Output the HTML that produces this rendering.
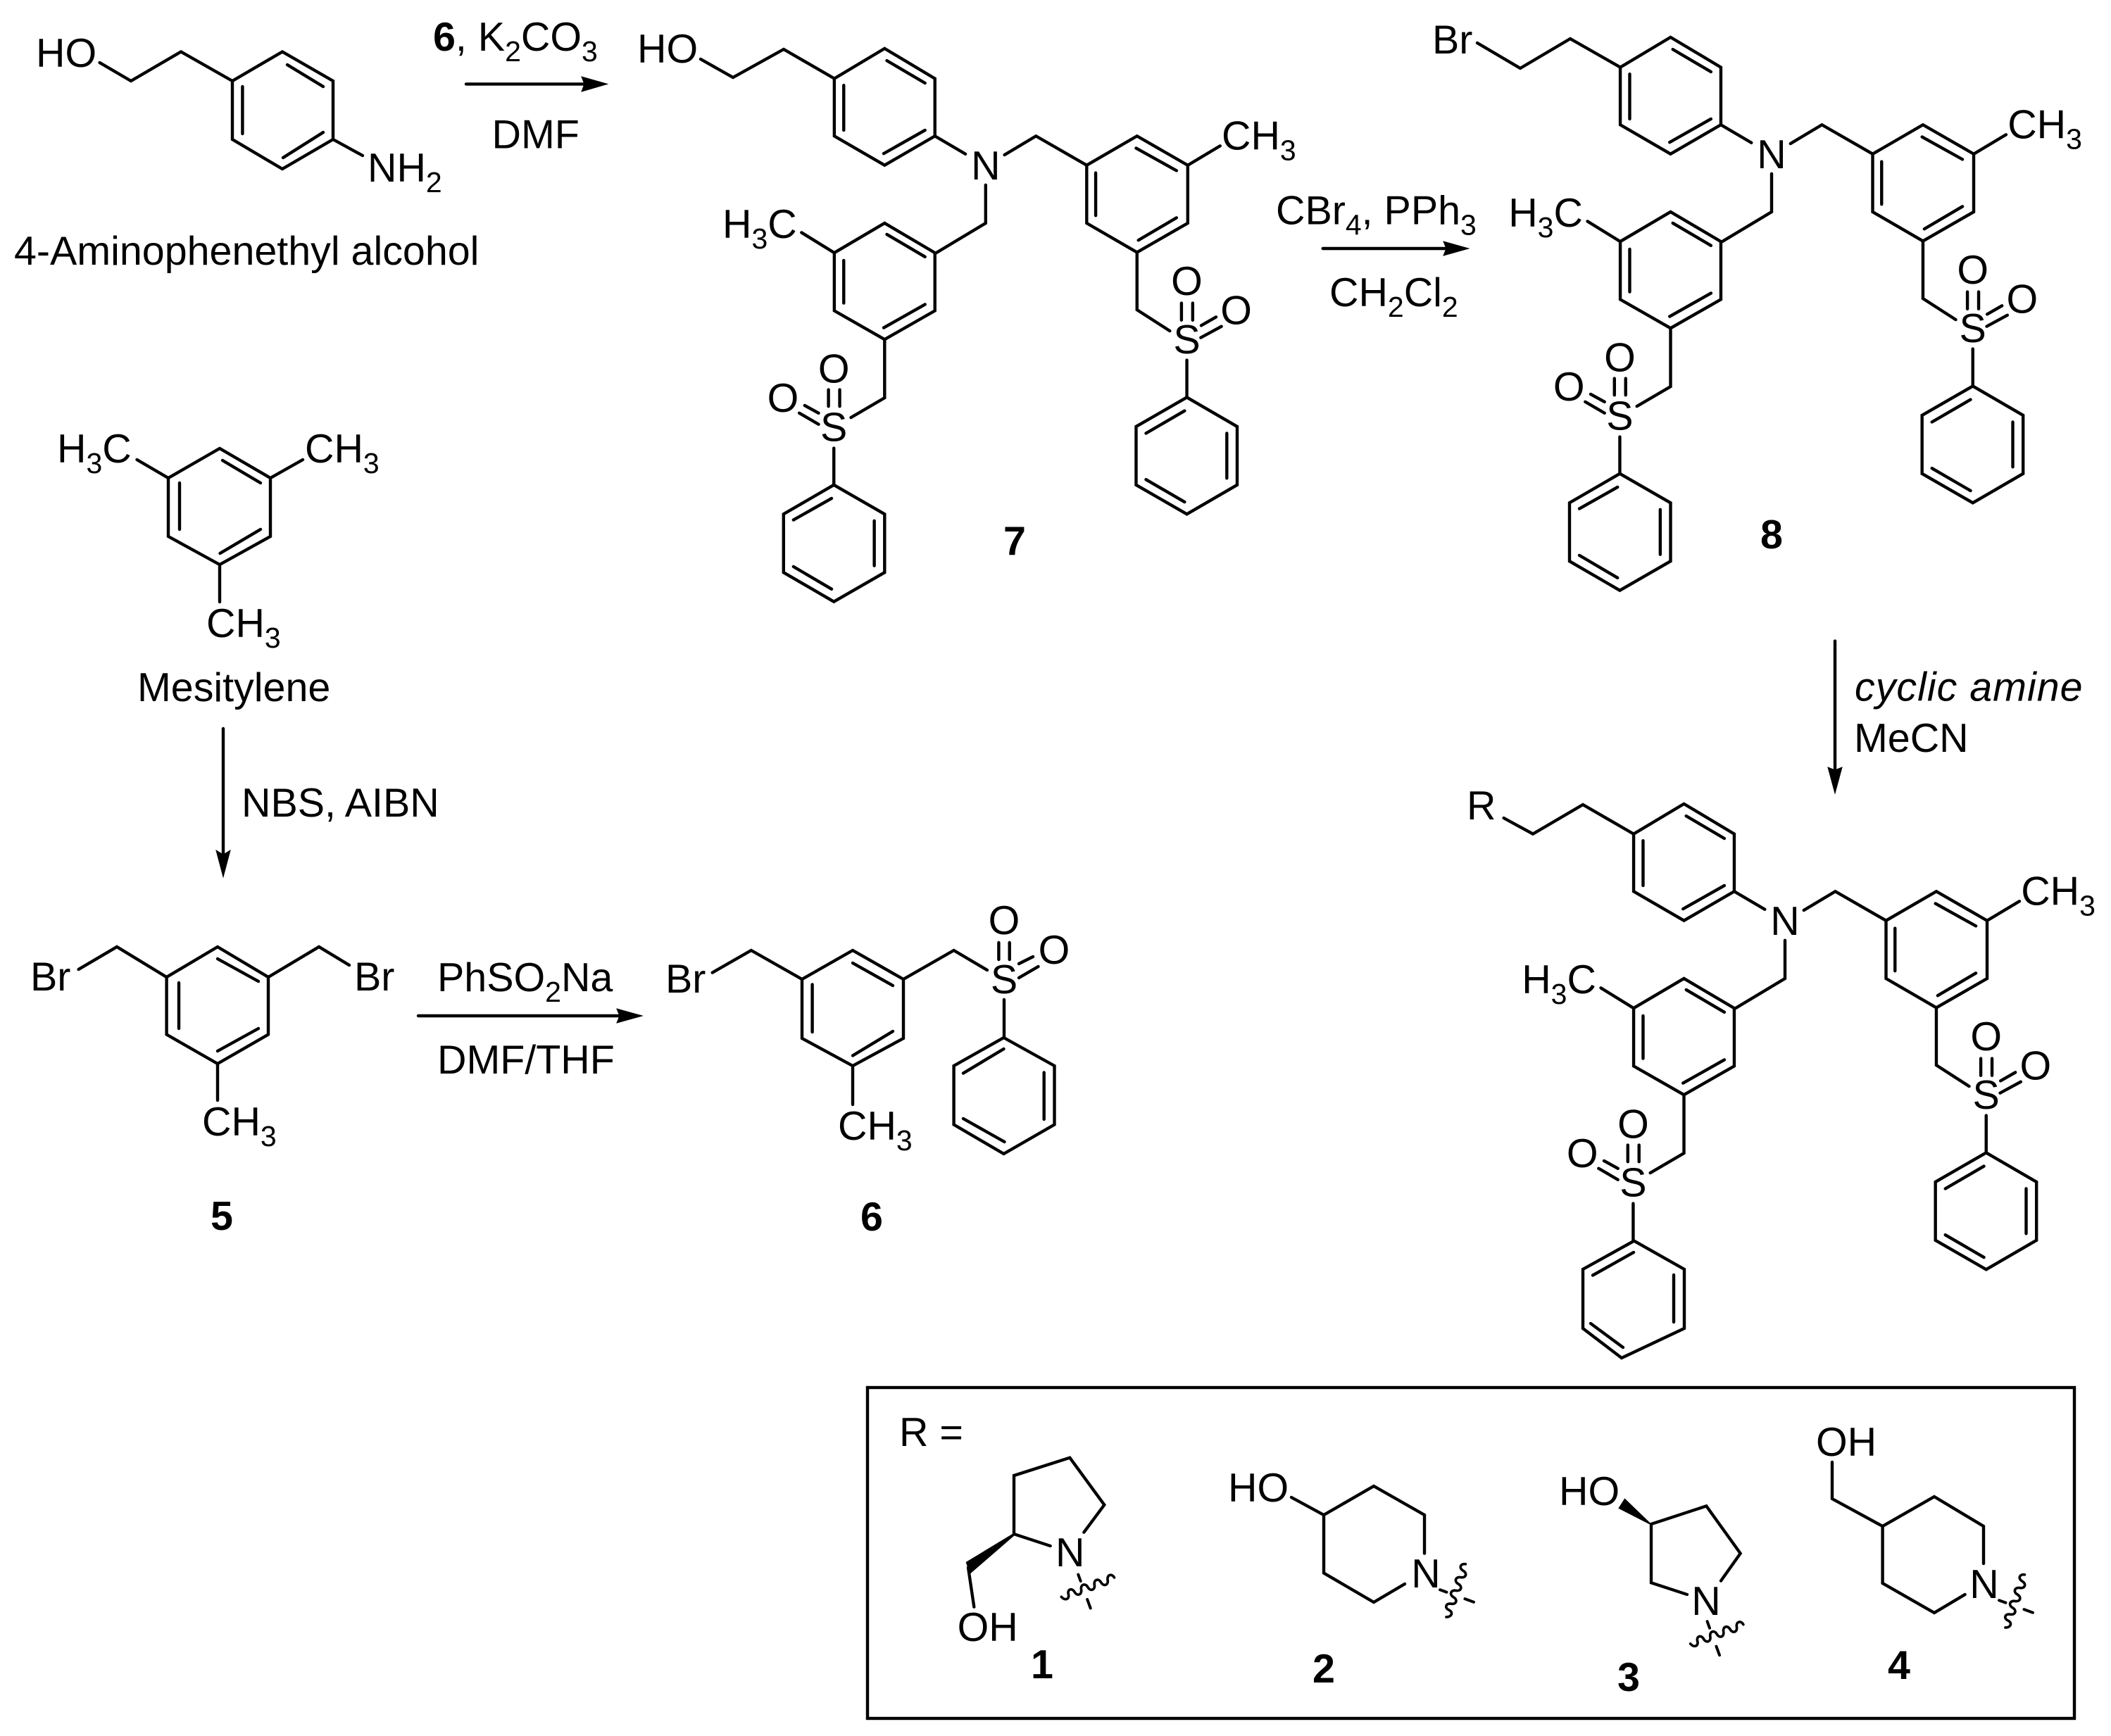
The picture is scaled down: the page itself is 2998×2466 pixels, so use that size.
<!DOCTYPE html>
<html><head><meta charset="utf-8"><style>
html,body{margin:0;padding:0;background:#fff}
svg{display:block}
text{font-family:"Liberation Sans",Arial,sans-serif;font-size:57.4px;fill:#000}
.b{font-weight:bold}
.i{font-style:italic}
.m{text-anchor:middle}
.s{font-size:41px}
.l{fill:none;stroke:#000;stroke-width:4.4;stroke-linecap:round;stroke-linejoin:miter}
.c{fill:none;stroke:#000;stroke-width:6.9;stroke-linecap:round;stroke-linejoin:miter}
.z{fill:none;stroke:#000;stroke-width:13;stroke-linecap:round;stroke-linejoin:miter}
</style></head><body>
<svg xmlns="http://www.w3.org/2000/svg" width="2998" height="2466" viewBox="0 0 2998 2466">
<rect width="2998" height="2466" fill="#fff"/>
<defs>
<g id="core" transform="translate(880 0) scale(.6378)">
<path class="c" d="M478,175L590,108L702,175V303L590,368L478,303ZM499,190V290M595,135L680,185M588,342L680,290M702,303L770,343M857,345L927,303L1040,368M815,412V497L705,563"/>
<path class="c" d="M1040,368L1152,303L1265,368V497L1152,562L1040,497ZM1150,330L1240,380M1240,485L1155,535M1060,385V480M1265,368L1337,325M1152,562V690L1225,737M1251,675V713M1276,675V713M1295,725L1328,706M1294,752L1340,727M1263,802V885"/>
<path class="c" d="M1263,885L1375,950V1080L1263,1145L1150,1080V950ZM1172,965L1258,915M1352,965V1065M1172,1068L1258,1118"/>
<path class="c" d="M478,563L590,497L702,563V692L590,756L478,692ZM499,580V675M595,522L680,572M588,730L680,678M478,563L405,518M590,756V886L515,930M465,868V905M490,868V905M412,903L443,920M400,920L443,945M477,998V1080"/>
</g>
<g id="lph" transform="translate(880 0) scale(.6378)">
<path class="c" d="M477,1080L590,1145V1275L477,1340L365,1275V1145ZM387,1158L472,1110M567,1160V1260M387,1262L472,1312"/>
</g>
<g id="wav">
<path d="M0,0C8,22 30,22 32,0C34,-22 56,-22 60,0C64,22 86,22 90,0C94,-22 116,-22 120,0C124,22 146,22 150,0C154,-22 176,-22 180,0C184,22 206,22 210,0C214,-22 236,-22 240,0" fill="none" stroke="#000" stroke-width="11" stroke-linecap="round"/>
<path d="M100,-35V-65M100,48V88" fill="none" stroke="#000" stroke-width="12" stroke-linecap="round"/>
</g>
</defs>

<!-- 4-aminophenethyl alcohol -->
<text x="51" y="95">HO</text>
<path class="l" d="M141.600,89L186,115L257,73.500L330,115M330,115L401,73.500L473,115V198L401,240L330,198ZM344.400,123V190M408,92L459,123M402,224L459,188M473,198L515,221"/>
<text x="522" y="258">NH<tspan class="s" dy="15">2</tspan></text>
<text x="20" y="376">4-Aminophenethyl alcohol</text>

<!-- arrow 1 -->
<path class="l" d="M662,119.400H840"/>
<path d="M862.500,119.400L826,109L830,119.400L826,130Z" stroke="#000" stroke-width="1"/>
<text x="615" y="72"><tspan class="b">6</tspan>, K<tspan class="s" dy="15">2</tspan><tspan dy="-15">CO</tspan><tspan class="s" dy="15">3</tspan></text>
<text x="698.500" y="210.500">DMF</text>

<!-- mesitylene -->
<path class="l" d="M239,679L312,637L384,679V762L312,802L239,762ZM255,686V752M316,654L370,686M312.500,786L370,752M239,679L194.500,653M384,679L430,653M312,802V855"/>
<text x="81" y="657">H<tspan class="s" dy="15">3</tspan><tspan dy="-15">C</tspan></text>
<text x="433" y="657">CH<tspan class="s" dy="15">3</tspan></text>
<text x="293" y="905">CH<tspan class="s" dy="15">3</tspan></text>
<text x="195" y="996">Mesitylene</text>

<!-- down arrow NBS -->
<path class="l" d="M317,1035V1225"/>
<path d="M317,1245.700L307,1208L317,1214L327,1208Z" stroke="#000" stroke-width="1"/>
<text x="343" y="1160">NBS, AIBN</text>

<!-- compound 5 -->
<path class="l" d="M236.600,1388L309,1345L381,1388V1469.500L309,1511L236.600,1469.500ZM254,1396V1461M309,1362L367,1394M309,1493L367,1461M111.600,1377L166,1345L236.600,1388M381,1388L453,1345L496,1371M309,1511V1563"/>
<text x="43" y="1407">Br</text>
<text x="503" y="1407">Br</text>
<text x="287" y="1613">CH<tspan class="s" dy="15">3</tspan></text>
<text x="315" y="1747" class="b m">5</text>

<!-- arrow 2 -->
<path class="l" d="M594,1443H890"/>
<path d="M912,1443L876,1433L880,1443L876,1453Z" stroke="#000" stroke-width="1"/>
<text x="621" y="1408">PhSO<tspan class="s" dy="15">2</tspan><tspan dy="-15">Na</tspan></text>
<text x="621" y="1525">DMF/THF</text>

<!-- compound 6 -->
<path class="l" d="M1139,1391L1211,1350L1283,1391V1475L1211,1514L1139,1475ZM1153.600,1398.500V1466M1211,1368L1268,1400M1211,1499.500L1268,1465M1011.700,1381.600L1066.800,1350L1139,1391M1283,1391L1354.600,1350L1402,1378M1418.400,1339V1363M1433.700,1339V1363M1447,1369L1467,1359M1447,1389L1474.500,1373M1426,1420V1474M1211,1514V1569"/>
<path class="l" d="M1425.500,1474L1497.500,1514V1597.500L1425.500,1639L1354.600,1597.500V1514ZM1368,1524.500L1425.500,1490M1482.700,1523.500V1590M1368,1589L1426.500,1622"/>
<text x="945" y="1410">Br</text>
<text x="1426" y="1411" class="m">S</text>
<text x="1426" y="1327" class="m">O</text>
<text x="1497" y="1369" class="m">O</text>
<text x="1190" y="1619">CH<tspan class="s" dy="15">3</tspan></text>
<text x="1238" y="1748" class="b m">6</text>

<!-- compound 7 -->
<use href="#core"/><use href="#lph"/>
<path class="l" d="M995,84L1041,110L1113,70L1185,111.600"/>
<g>
<text x="905" y="89">HO</text>
<text x="1399.800" y="255" class="m">N</text>
<text x="1735" y="212.400">CH<tspan class="s" dy="15">3</tspan></text>
<text x="1026" y="338">H<tspan class="s" dy="15">3</tspan><tspan dy="-15">C</tspan></text>
<text x="1685.500" y="502" class="m">S</text>
<text x="1685.500" y="419" class="m">O</text>
<text x="1755.600" y="460.500" class="m">O</text>
<text x="1184.200" y="626.300" class="m">S</text>
<text x="1184.200" y="543.400" class="m">O</text>
<text x="1112" y="584.800" class="m">O</text>
<text x="1441" y="788" class="b m">7</text>
</g>

<!-- arrow 3 -->
<path class="l" d="M1878.700,353H2065"/>
<path d="M2085.700,353L2050,343L2054,353L2050,363Z" stroke="#000" stroke-width="1"/>
<text x="1812" y="318.600">CBr<tspan class="s" dy="15">4</tspan><tspan dy="-15">, PPh</tspan><tspan class="s" dy="15">3</tspan></text>
<text x="1888" y="435">CH<tspan class="s" dy="15">2</tspan><tspan dy="-15">Cl</tspan><tspan class="s" dy="15">2</tspan></text>

<!-- compound 8 -->
<g transform="translate(1116.200 -16)"><use href="#core"/><use href="#lph"/></g>
<path class="l" d="M2098,61L2159,97L2230,55L2301,95.500"/>
<text x="2034" y="76">Br</text>
<g transform="translate(1116.200 -16)">
<text x="1399.800" y="255" class="m">N</text>
<text x="1735" y="212.400">CH<tspan class="s" dy="15">3</tspan></text>
<text x="1026" y="338">H<tspan class="s" dy="15">3</tspan><tspan dy="-15">C</tspan></text>
<text x="1685.500" y="502" class="m">S</text>
<text x="1685.500" y="419" class="m">O</text>
<text x="1755.600" y="460.500" class="m">O</text>
<text x="1184.200" y="626.300" class="m">S</text>
<text x="1184.200" y="543.400" class="m">O</text>
<text x="1112" y="584.800" class="m">O</text>
</g>
<text x="2516" y="779" class="b m">8</text>

<!-- arrow 4 -->
<path class="l" d="M2606,910.600V1105"/>
<path d="M2606,1127L2596,1090L2606,1094L2616,1090Z" stroke="#000" stroke-width="1"/>
<text x="2634" y="995.400" class="i" style="letter-spacing:1px">cyclic amine</text>
<text x="2633" y="1068">MeCN</text>

<!-- final -->
<g transform="translate(1135.200 1073)"><use href="#core"/></g>
<path class="l" d="M2135.600,1162L2177,1184.600L2248,1143L2320,1184.600"/>
<path class="l" d="M2320.700,1762.700L2392,1803V1887L2303,1929L2248,1887V1803ZM2262,1811.600L2320,1779M2377,1811V1878M2259,1880L2305,1914"/>
<text x="2083" y="1164">R</text>
<g transform="translate(1135.200 1073)">
<text x="1399.800" y="255" class="m">N</text>
<text x="1735" y="212.400">CH<tspan class="s" dy="15">3</tspan></text>
<text x="1026" y="338">H<tspan class="s" dy="15">3</tspan><tspan dy="-15">C</tspan></text>
<text x="1685.500" y="502" class="m">S</text>
<text x="1685.500" y="419" class="m">O</text>
<text x="1755.600" y="460.500" class="m">O</text>
<text x="1184.200" y="626.300" class="m">S</text>
<text x="1184.200" y="543.400" class="m">O</text>
<text x="1112" y="584.800" class="m">O</text>
</g>

<!-- box -->
<rect x="1232" y="1971" width="1714" height="470" fill="none" stroke="#000" stroke-width="4.4"/>
<text x="1277" y="2054">R =</text>

<!-- R1 -->
<g transform="translate(1260 2000) scale(.33333)">
<path class="z" d="M695,588L540,537V288L778,212L925,413L838,530M345,680L370,848"/>
<path d="M540,533L335,657L352,708L546,540Z"/>
<use href="#wav" transform="translate(742 805) rotate(-20)"/>
</g>
<text x="1519.700" y="2225" class="m">N</text>
<text x="1402.700" y="2331" class="m">OH</text>
<text x="1480" y="2384" class="b m">1</text>

<!-- R2 -->
<path class="l" d="M1834,2127L1880,2152L1951,2111L2023,2152V2206.600M1995,2250L1951,2276L1880,2234.500V2152"/>
<use href="#wav" transform="translate(2054 2297) rotate(-70) scale(.33333)"/>
<text x="1744" y="2133">HO</text>
<text x="2025" y="2255" class="m">N</text>
<text x="1880" y="2390" class="b m">2</text>

<!-- R3 -->
<g transform="translate(2200 2000) scale(.33333)">
<path class="z" d="M588,795L435,745V495L670,418L815,620L732,737"/>
<path d="M438,497L322,385L295,428L432,498Z"/>
<use href="#wav" transform="translate(602 1005) rotate(-20)"/>
</g>
<text x="2214" y="2138">HO</text>
<text x="2423" y="2294" class="m">N</text>
<text x="2313" y="2402" class="b m">3</text>

<!-- R4 -->
<path class="l" d="M2602,2077V2129L2673.600,2168L2747,2126L2817,2168V2221M2790.600,2265L2747,2291L2673.600,2249V2168"/>
<use href="#wav" transform="translate(2848 2312) rotate(-70) scale(.33333)"/>
<text x="2579" y="2068">OH</text>
<text x="2818" y="2270" class="m">N</text>
<text x="2697" y="2385" class="b m">4</text>
</svg>
</body></html>
